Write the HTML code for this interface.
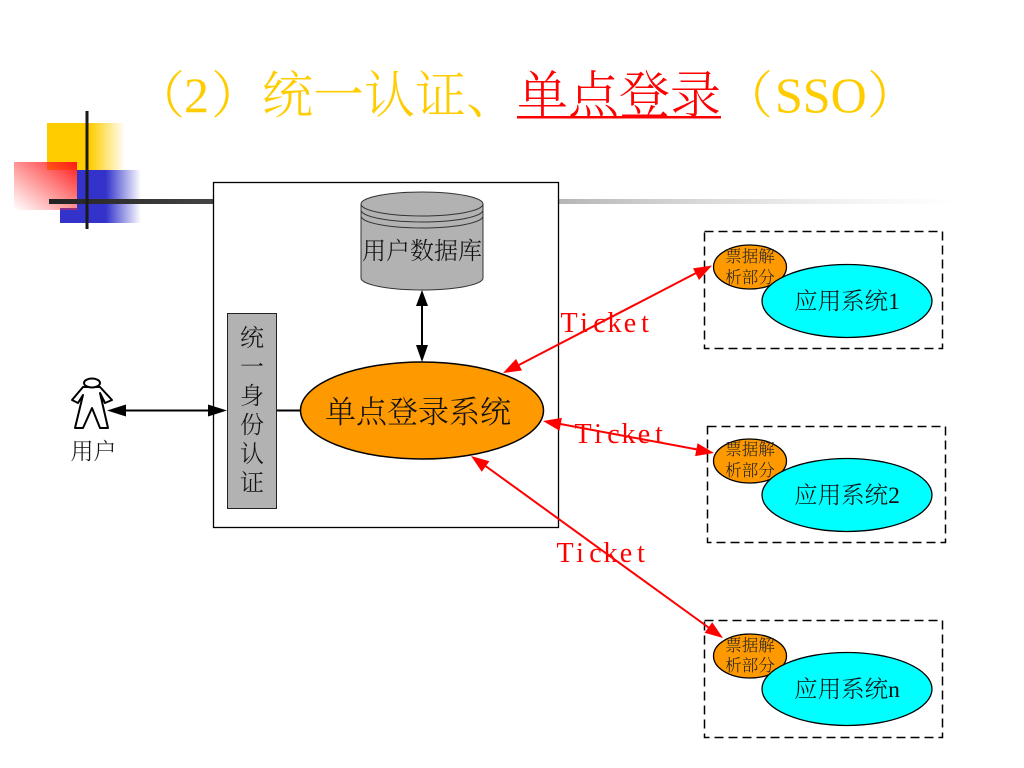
<!DOCTYPE html>
<html><head><meta charset="utf-8"><style>
html,body{margin:0;padding:0;background:#fff;width:1024px;height:768px;overflow:hidden}
svg{display:block}
text{font-family:"Liberation Serif","Noto Serif CJK SC",serif;font-weight:300}
</style></head><body>
<svg width="1024" height="768" viewBox="0 0 1024 768" xmlns="http://www.w3.org/2000/svg">
<defs>
<linearGradient id="y" x1="0" x2="1" y1="0" y2="0"><stop offset="0" stop-color="#ffcc00"/><stop offset="0.55" stop-color="#ffcc00"/><stop offset="1" stop-color="#ffcc00" stop-opacity="0"/></linearGradient>
<linearGradient id="b" x1="0" x2="1" y1="0" y2="0"><stop offset="0" stop-color="#3333cc"/><stop offset="0.45" stop-color="#3333cc"/><stop offset="1" stop-color="#3333cc" stop-opacity="0"/></linearGradient>
<linearGradient id="r" x1="1" x2="0" y1="0" y2="1"><stop offset="0" stop-color="#ff1a1a"/><stop offset="1" stop-color="#ff3333" stop-opacity="0"/></linearGradient>
<linearGradient id="l" x1="0" x2="1" y1="0" y2="0"><stop offset="0" stop-color="#222"/><stop offset="0.18" stop-color="#444"/><stop offset="0.56" stop-color="#b5b5b5"/><stop offset="1" stop-color="#ddd" stop-opacity="0"/></linearGradient>
</defs>

<rect x="47" y="123" width="78" height="47" fill="url(#y)"/>
<rect x="77" y="170" width="64" height="53" fill="url(#b)"/>
<rect x="60" y="208" width="40" height="15" fill="#3333cc"/>
<rect x="14" y="162" width="63" height="48" fill="url(#r)"/>
<rect x="49" y="199" width="911" height="5" fill="url(#l)"/>
<rect x="85.500" y="111" width="3" height="118" fill="#1a1a1a"/>

<g font-size="51" fill="#ffcc00">
<text x="134" y="113">（</text>
<text x="184" y="112" font-size="50">2</text>
<text x="211" y="113">）</text>
<text x="262" y="113">统</text>
<text x="313" y="113">一</text>
<text x="364" y="113">认</text>
<text x="415" y="113">证</text>
<text x="466" y="113">、</text>
<text x="722" y="113">（</text>
<text x="775" y="112" font-size="50">SSO</text>
<text x="867" y="113">）</text>
</g>
<g font-size="51" fill="#ff0000">
<text x="517" y="113">单</text>
<text x="568" y="113">点</text>
<text x="619" y="113">登</text>
<text x="670" y="113">录</text>
</g>
<rect x="517" y="116" width="204" height="2.500" fill="#ff0000"/>

<rect x="213.500" y="182.500" width="345" height="345" fill="#fff" stroke="#000" stroke-width="1.300"/>

<!-- database -->
<path d="M361 204 A61 12 0 0 1 483 204 V278 A61 12 0 0 1 361 278 Z" fill="#b2b2b2" stroke="#333" stroke-width="1"/>
<path d="M361 204 A61 12 0 0 0 483 204 M361 210 A61 12 0 0 0 483 210 M361 216 A61 12 0 0 0 483 216" fill="none" stroke="#333" stroke-width="1"/>
<text x="422" y="259" text-anchor="middle" font-size="24" fill="#111">用户数据库</text>

<!-- vertical box -->
<rect x="227.500" y="313.500" width="49" height="195" fill="#b2b2b2" stroke="#222" stroke-width="1"/>
<g font-size="24" fill="#111" text-anchor="middle">
<text x="252" y="346">统</text><text x="252" y="375">一</text><text x="252" y="404">身</text><text x="252" y="433">份</text><text x="252" y="462">认</text><text x="252" y="491">证</text>
</g>
<line x1="277" y1="410.500" x2="301" y2="410.500" stroke="#000" stroke-width="2"/>

<!-- main ellipse -->
<ellipse cx="422" cy="410.500" rx="121.500" ry="48.500" fill="#ff9900" stroke="#000" stroke-width="1.500"/>
<text x="418" y="423" text-anchor="middle" font-size="31" fill="#111">单点登录系统</text>

<!-- black arrows -->
<line x1="422" y1="305" x2="422" y2="347" stroke="#000" stroke-width="2"/>
<polygon points="422,290 416,306 428,306" fill="#000"/>
<polygon points="422,362 416,345 428,345" fill="#000"/>
<line x1="122" y1="410.500" x2="212" y2="410.500" stroke="#000" stroke-width="2"/>
<polygon points="107,410.500 126,404.500 126,416.500" fill="#000"/>
<polygon points="227,410.500 208,404.500 208,416.500" fill="#000"/>

<!-- user -->
<path d="M83 387 L100 387 L112 400 L105 403 L100 393 L108 428 L100 428 L92 408 L83 428 L75 428 L83 395 L78 403 L72 400 Z" fill="#fff" stroke="#000" stroke-width="2" stroke-linejoin="round"/>
<ellipse cx="92" cy="383" rx="8" ry="4.500" fill="#fff" stroke="#000" stroke-width="2"/>
<text x="93.500" y="459" text-anchor="middle" font-size="23" fill="#111">用户</text>

<!-- dashed boxes -->
<g fill="none" stroke="#000" stroke-width="1.500" stroke-dasharray="9 5">
<rect x="704.500" y="231.500" width="238" height="117"/>
<rect x="707.500" y="426.500" width="238" height="116"/>
<rect x="704.500" y="620.500" width="238" height="117"/>
</g>

<!-- apps -->
<g stroke="#000" stroke-width="1.300">
<ellipse cx="750" cy="267" rx="36.500" ry="22" fill="#ff9900"/>
<ellipse cx="847" cy="301" rx="85" ry="36.500" fill="#00ffff"/>
<ellipse cx="750" cy="461" rx="36.500" ry="22" fill="#ff9900"/>
<ellipse cx="847" cy="495" rx="85" ry="36.500" fill="#00ffff"/>
<ellipse cx="750" cy="656" rx="36.500" ry="22" fill="#ff9900"/>
<ellipse cx="847" cy="689" rx="85" ry="36.500" fill="#00ffff"/>
</g>
<g font-size="16.500" fill="#222" text-anchor="middle">
<text x="750" y="262">票据解</text><text x="750" y="283">析部分</text>
<text x="750" y="455">票据解</text><text x="750" y="476">析部分</text>
<text x="750" y="651">票据解</text><text x="750" y="671">析部分</text>
</g>
<g font-size="23.500" fill="#111" text-anchor="middle">
<text x="847" y="309">应用系统1</text>
<text x="847" y="503">应用系统2</text>
<text x="847" y="697">应用系统n</text>
</g>

<!-- red arrows -->
<g stroke="#f00" stroke-width="2">
<line x1="515" y1="367" x2="698" y2="272"/>
<line x1="555" y1="423" x2="700" y2="450"/>
<line x1="480" y1="462" x2="712" y2="630"/>
</g>
<g fill="#f00">
<polygon points="503,373 522,370.500 516,358.900"/>
<polygon points="712,265.500 699,280 693,268.400"/>
<polygon points="543,421 559.500,430.700 561.900,417.900"/>
<polygon points="714,453 695.100,456.100 697.500,443.300"/>
<polygon points="471,456 481.800,471.800 489.400,461.200"/>
<polygon points="723,638 704.600,632.800 712.200,622.200"/>
</g>
<g font-size="28" fill="#f00" text-anchor="middle">
<text x="569 584 599.500 614.500 630 645" y="332">Ticket</text>
<text x="583 598 613.500 628.500 644 659" y="443">Ticket</text>
<text x="565 580 595.500 610.500 626 641" y="562">Ticket</text>
</g>
</svg>
</body></html>
